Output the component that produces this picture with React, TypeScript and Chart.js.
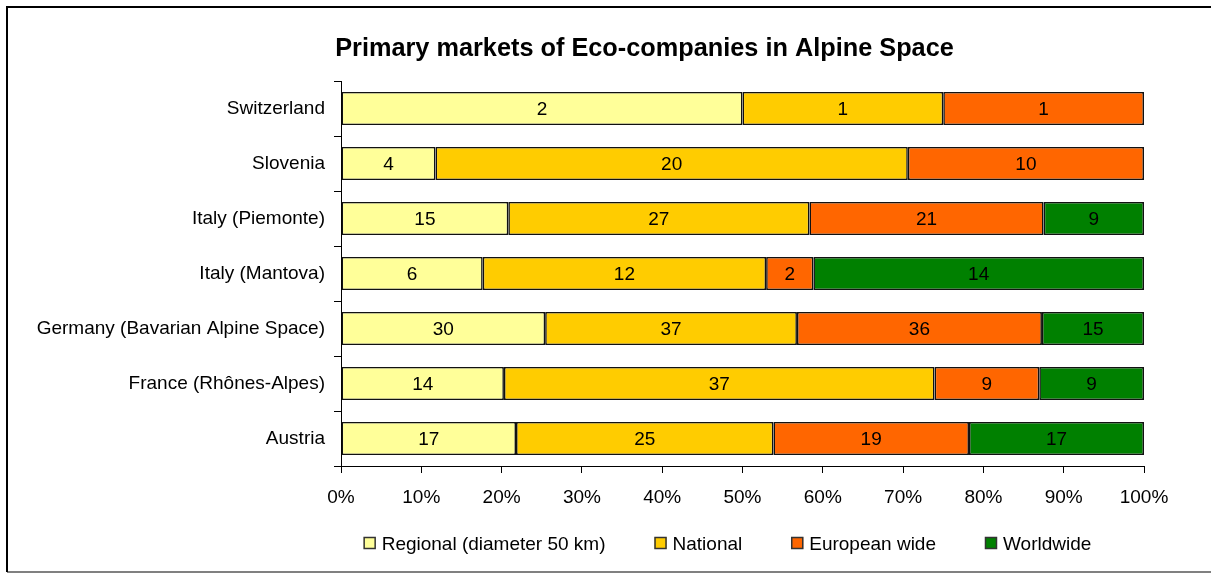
import React, { useEffect, useRef } from 'react';
import { Chart, registerables } from 'chart.js';

Chart.register(...registerables);

const FONT = '"Liberation Sans", Arial, Helvetica, sans-serif';

const TITLE = 'Primary markets of Eco-companies in Alpine Space';
const categories = [
  'Switzerland',
  'Slovenia',
  'Italy (Piemonte)',
  'Italy (Mantova)',
  'Germany (Bavarian Alpine Space)',
  'France (Rhônes-Alpes)',
  'Austria',
];
const seriesNames = ['Regional (diameter 50 km)', 'National', 'European wide', 'Worldwide'];
const regional = [2, 4, 15, 6, 30, 14, 17];
const national = [1, 20, 27, 12, 37, 37, 25];
const european = [1, 10, 21, 2, 36, 9, 19];
const worldwide = [0, 0, 9, 14, 15, 9, 17];
const seriesColors = ['#FFFF99', '#FFCC00', '#FF6600', '#008000'];
const xTickValues = [0, 10, 20, 30, 40, 50, 60, 70, 80, 90, 100];

const allSeries = [regional, national, european, worldwide];
const totals = categories.map((_, i) => allSeries.reduce((s, arr) => s + arr[i], 0));
const toPct = (arr: number[]) => arr.map((v, i) => (v / totals[i]) * 100);

const TEXT_SIZE = 19;

const framePlugin = {
  id: 'frame',
  beforeDraw(chart: any) {
    const ctx = chart.ctx;
    const w = chart.width;
    ctx.save();
    ctx.fillStyle = '#ffffff';
    ctx.fillRect(0, 0, w, chart.height);
    ctx.strokeStyle = '#808080';
    ctx.lineWidth = 2;
    ctx.beginPath();
    ctx.moveTo(7, 572);
    ctx.lineTo(w, 572);
    ctx.stroke();
    ctx.strokeStyle = '#000000';
    ctx.beginPath();
    ctx.moveTo(7, 572);
    ctx.lineTo(7, 7);
    ctx.lineTo(w, 7);
    ctx.stroke();
    ctx.restore();
  },
};

const titlePlugin = {
  id: 'customTitle',
  afterDraw(chart: any) {
    const ctx = chart.ctx;
    ctx.save();
    ctx.font = `bold 25.3px ${FONT}`;
    ctx.fillStyle = '#000';
    ctx.textAlign = 'center';
    ctx.textBaseline = 'alphabetic';
    ctx.fillText(TITLE, 644.5, 56);
    ctx.restore();
  },
};

const legendPlugin = {
  id: 'customLegend',
  afterDraw(chart: any) {
    const ctx = chart.ctx;
    ctx.save();
    ctx.font = `${TEXT_SIZE}px ${FONT}`;
    const box = 12;
    const gapText = 6;
    const gapItem = 49;
    const widths = seriesNames.map((n) => ctx.measureText(n).width);
    const total =
      widths.reduce((s, w) => s + box + gapText + w, 0) + gapItem * (seriesNames.length - 1);
    let x = 727.5 - total / 2;
    const boxTop = 537;
    seriesNames.forEach((name, i) => {
      ctx.fillStyle = seriesColors[i];
      ctx.fillRect(x, boxTop, box, box);
      ctx.strokeStyle = '#333';
      ctx.lineWidth = 1.5;
      ctx.strokeRect(x + 0.5, boxTop + 0.5, box - 1, box - 1);
      ctx.fillStyle = '#000';
      ctx.textAlign = 'left';
      ctx.textBaseline = 'alphabetic';
      ctx.fillText(name, x + box + gapText, 550);
      x += box + gapText + widths[i] + gapItem;
    });
    ctx.restore();
  },
};

const valueLabelPlugin = {
  id: 'valueLabels',
  afterDatasetsDraw(chart: any) {
    const ctx = chart.ctx;
    ctx.save();
    ctx.font = `${TEXT_SIZE}px ${FONT}`;
    ctx.fillStyle = '#000';
    ctx.textAlign = 'center';
    ctx.textBaseline = 'middle';
    chart.data.datasets.forEach((ds: any, d: number) => {
      const meta = chart.getDatasetMeta(d);
      meta.data.forEach((el: any, i: number) => {
        const v = ds.rawValues[i];
        if (!v) return;
        const p = el.getProps(['x', 'base', 'y'], true);
        ctx.fillText(String(v), (p.x + p.base) / 2, p.y + 1);
      });
    });
    ctx.restore();
  },
};

export default function App() {
  const ref = useRef<HTMLCanvasElement | null>(null);

  useEffect(() => {
    if (!ref.current) return;
    const chart = new Chart(ref.current, {
      type: 'bar',
      data: {
        labels: categories,
        datasets: allSeries.map((arr, k) => ({
          label: seriesNames[k],
          data: toPct(arr),
          rawValues: arr,
          backgroundColor: seriesColors[k],
          borderColor: '#111',
          borderWidth: 1.6,
          borderSkipped: false,
          barPercentage: 0.6,
          categoryPercentage: 1.0,
        })) as any,
      },
      options: {
        indexAxis: 'y',
        animation: false,
        responsive: false,
        maintainAspectRatio: false,
        events: [],
        layout: { padding: { left: 0, right: 67, top: 81, bottom: 58 } },
        plugins: {
          legend: { display: false },
          title: { display: false },
          tooltip: { enabled: false },
        },
        scales: {
          x: {
            stacked: true,
            min: 0,
            max: 100,
            afterBuildTicks: (s: any) => {
              s.ticks = xTickValues.map((v) => ({ value: v }));
            },
            ticks: {
              callback: (v: any) => `${v}%`,
              color: '#000',
              font: { family: FONT, size: TEXT_SIZE },
              padding: 13,
              maxRotation: 0,
              autoSkip: false,
            },
            grid: {
              display: true,
              drawOnChartArea: false,
              drawTicks: true,
              tickLength: 7,
              color: '#000',
              lineWidth: 1,
            },
            border: { display: true, color: '#000', width: 1 },
            afterFit: (s: any) => {
              s.height = 50;
            },
          },
          y: {
            stacked: true,
            ticks: {
              color: '#000',
              font: { family: FONT, size: TEXT_SIZE },
              padding: 9,
              autoSkip: false,
            },
            grid: {
              display: true,
              drawOnChartArea: false,
              drawTicks: true,
              tickLength: 7,
              color: '#000',
              offset: true,
            },
            border: { display: true, color: '#000', width: 1 },
            afterFit: (s: any) => {
              s.width = 341;
            },
          },
        },
      } as any,
      plugins: [framePlugin, valueLabelPlugin, titlePlugin, legendPlugin],
    });
    return () => chart.destroy();
  }, []);

  return (
    <canvas
      ref={ref}
      width={1211}
      height={574}
      style={{ position: 'fixed', left: 0, top: 0, width: 1211, height: 574, display: 'block' }}
    />
  );
}
